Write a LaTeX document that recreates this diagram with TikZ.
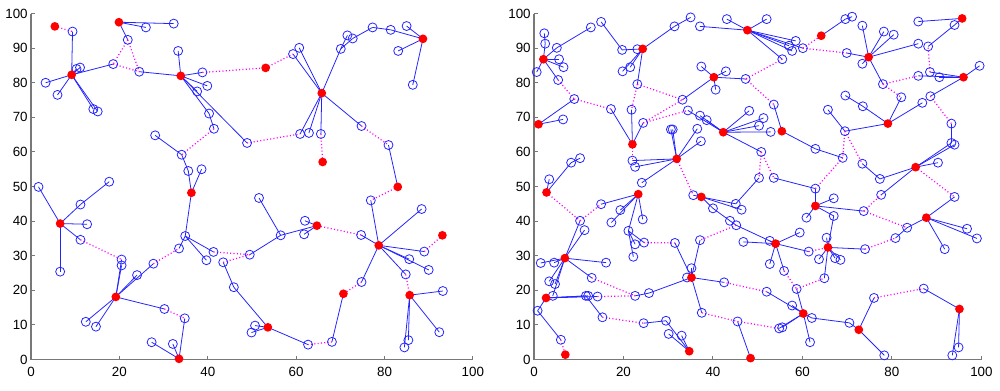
\documentclass[tikz,border=0pt]{standalone}
\usepackage{fontspec}
\setmainfont{Liberation Sans}
\usepackage{tikz}
\usetikzlibrary{backgrounds}
\definecolor{PtBlue}{RGB}{35,35,255}
\definecolor{HeadRed}{RGB}{255,0,0}
\definecolor{HopPink}{RGB}{255,0,255}
\definecolor{AxisGray}{RGB}{120,120,120}
\tikzset{
  % markers
  member/.style={circle,draw=PtBlue,line width=0.45pt,minimum size=0.18cm,inner sep=0pt},
  head/.style={circle,fill=HeadRed,minimum size=0.175cm,inner sep=0pt},
  % connections
  tie/.style={PtBlue,line width=0.45pt},
  hop/.style={HopPink,line width=0.7pt,dash pattern=on 0.6pt off 1.3pt},
  % axes
  axisline/.style={AxisGray,line width=0.6pt},
  ticklabel/.style={inner sep=0pt,font=\fontsize{7.6}{9}\selectfont}
}

\begin{document}
\begin{tikzpicture}[x=0.02cm,y=0.02cm]
  \useasboundingbox (0,0) rectangle (1000,390);

  % left panel
  \begin{scope}[shift={(31,30.5)},x=0.0884cm,y=0.0692cm]
    \draw[axisline] (0,100) -- (0,0) -- (100,0);
    \foreach \y in {0,10,...,100} {
      \draw[axisline] (0,\y) -- ++(0.08cm,0);
      \node[ticklabel,anchor=east] (ly\y) at ([xshift=-0.06cm]0,\y) {\y};
    }
    \foreach \x in {0,20,...,100} {
      \draw[axisline] (\x,0) -- ++(0,0.08cm);
      \node[ticklabel,anchor=north] (lx\x) at ([yshift=-0.15cm]\x,0) {\x};
    }
    \foreach \n/\x/\y in {l1/9.4/94.8, l2/26.0/96.0, l3/32.3/97.1, l4/21.9/92.4,
      l5/18.6/85.4, l6/24.5/83.2, l7/3.3/80.0, l8/6.0/76.5, l9/10.3/84.0,
      l10/11.1/84.4, l11/14.1/72.4, l12/15.1/71.7, l13/33.3/89.2, l14/38.8/83.0,
      l15/39.9/79.1, l16/37.6/77.5, l17/40.3/71.1, l18/41.4/66.7, l19/48.9/62.6,
      l20/34.1/59.2, l21/35.6/54.5, l22/38.6/55.0, l23/28.1/64.8, l24/60.9/65.2,
      l25/62.9/65.5, l26/65.6/65.2, l27/59.3/88.3, l28/60.7/90.1, l29/70.1/89.8,
      l30/71.6/93.7, l31/72.8/92.8, l32/77.3/96.0, l33/81.4/95.3, l34/85.0/96.4,
      l35/83.1/89.2, l36/86.4/79.4, l37/74.8/67.5, l38/80.9/62.0, l39/76.9/46.0,
      l40/88.4/43.5, l41/74.7/36.0, l42/62.0/40.1, l43/61.8/36.2, l44/56.5/35.9,
      l45/51.6/46.7, l46/49.5/30.3, l47/89.0/31.2, l48/85.6/29.0, l49/90.0/25.9,
      l50/84.8/24.6, l51/93.2/19.8, l52/92.4/7.9, l53/85.4/5.6, l54/84.5/3.5,
      l55/74.8/22.4, l56/68.1/5.1, l57/62.7/4.3, l58/50.7/9.8, l59/49.9/7.8,
      l60/45.9/20.9, l61/43.5/28.1, l62/1.7/49.9, l63/11.2/44.8, l64/17.7/51.4,
      l65/12.7/39.1, l66/11.2/34.6, l67/6.6/25.4, l68/20.5/28.9, l69/20.5/27.2,
      l70/24.0/24.4, l71/27.7/27.7, l72/33.5/32.1, l73/34.9/35.7, l74/39.7/28.7,
      l75/41.3/31.1, l76/30.2/14.6, l77/34.8/11.9, l78/27.3/5.0, l79/32.1/4.5,
      l80/12.4/10.9, l81/14.7/9.5}
      \node[member] (\n) at (\x,\y) {};
    \foreach \n/\x/\y in {LA/5.4/96.3, LB/9.2/82.3, LC/19.9/97.5, LD/33.9/82.0,
      LE/53.1/84.3, LF/65.8/77.0, LG/88.7/92.7, LH/66.0/57.1, LI/36.3/48.2,
      LJ/6.6/39.3, LK/83.0/49.9, LL/64.7/38.7, LM/78.7/33.0, LN/93.1/35.9,
      LO/19.2/18.1, LP/70.7/19.0, LQ/85.7/18.6, LR/53.6/9.3, LS/33.5/0.2}
      \node[head] (\n) at (\x,\y) {};
    \begin{scope}[on background layer]
      \foreach \a/\b in {l1/LB, l2/LC, l3/LC, l4/LC, l5/LB, l6/LD, l7/LB, l8/LB,
        l9/LB, l10/LB, l11/LB, l12/LB, l13/LD, l14/LD, l15/LD, l16/LD, l17/LD,
        l18/l17, l19/LD, l20/l21, l21/LI, l22/LI, l23/l20, l24/LF, l25/LF, l26/LF,
        l27/LF, l28/LF, l29/LF, l30/l29, l31/l29, l32/l31, l33/l32, l33/LG, l34/LG,
        l35/LG, l36/LG, l37/LF, l38/LK, l39/LM, l40/LM, l41/LM, l42/LL, l43/LL,
        l44/LL, l45/l44, l46/l44, l47/LM, l48/LM, l49/LM, l50/LM, l51/LQ, l52/LQ,
        l53/LQ, l54/LQ, l55/LM, l56/LP, l57/LR, l58/LR, l59/LR, l60/LR, l61/l60,
        l62/LJ, l63/LJ, l64/l63, l65/LJ, l66/LJ, l67/LJ, l68/LO, l69/LO, l70/LO,
        l71/LO, l72/l73, l73/LI, l74/l73, l75/l73, l76/LO, l77/LS, l78/LS, l79/LS,
        l80/LO, l81/LO}
        \draw[tie] (\a.center) -- (\b.center);
      \foreach \a/\b in {LA/l1, l4/l5, l4/l6, l5/l6, l14/LE, LE/l27, l18/l20,
        l19/l24, l26/LH, l37/l38, LK/l39, l41/LL, l47/LN, l50/LQ, l55/LP, l56/l57,
        l66/l68, l71/l72, l75/l46, l61/l46, l76/l77}
        \draw[hop] (\a.center) -- (\b.center);
    \end{scope}
  \end{scope}

  % right panel
  \begin{scope}[shift={(534,30.5)},x=0.0895cm,y=0.0692cm]
    \draw[axisline] (0,100) -- (0,0) -- (100,0);
    \foreach \y in {0,10,...,100} {
      \draw[axisline] (0,\y) -- ++(0.08cm,0);
      \node[ticklabel,anchor=east] (ry\y) at ([xshift=-0.06cm]0,\y) {\y};
    }
    \foreach \x in {0,20,...,100} {
      \draw[axisline] (\x,0) -- ++(0,0.08cm);
      \node[ticklabel,anchor=north] (rx\x) at ([yshift=-0.15cm]\x,0) {\x};
    }
    \foreach \n/\x/\y in {r1/2.3/94.3, r2/2.5/91.3, r3/5.1/90.1, r4/12.7/96.0,
      r5/15.0/97.6, r6/19.7/89.5, r7/23.1/89.7, r8/5.6/86.8, r9/6.6/84.5,
      r10/0.6/83.1, r11/5.4/80.8, r12/9.0/75.3, r13/6.5/69.4, r14/17.2/72.4,
      r15/21.8/72.2, r16/24.4/68.4, r17/19.8/83.3, r18/21.5/84.5, r19/23.1/79.6,
      r20/31.4/96.3, r21/35.0/98.9, r22/22.0/57.5, r23/22.6/55.7, r24/30.6/66.5,
      r25/31.0/66.5, r26/24.1/51.1, r27/3.4/52.1, r28/8.3/56.9, r29/10.3/58.2,
      r30/37.1/96.3, r31/43.1/98.4, r32/52.0/98.4, r33/57.0/90.7, r34/57.7/89.2,
      r35/58.5/92.1, r36/60.1/90.0, r37/55.5/86.8, r38/47.3/81.1, r39/53.6/73.7,
      r40/37.4/84.7, r41/42.9/83.3, r42/40.6/78.0, r43/33.2/75.1, r44/34.4/72.0,
      r45/37.1/70.5, r46/38.6/69.2, r47/48.1/71.9, r48/51.3/69.8, r49/50.3/67.6,
      r50/52.9/65.8, r51/50.8/60.0, r52/62.9/60.9, r53/50.3/52.5, r54/53.6/52.5,
      r55/62.9/49.4, r56/36.5/66.7, r57/37.3/63.1, r58/69.6/98.4, r59/71.1/99.1,
      r60/73.4/96.5, r61/78.2/94.8, r62/80.4/93.9, r63/85.9/91.3, r64/73.4/85.5,
      r65/69.9/88.6, r66/78.0/79.6, r67/82.1/75.8, r68/85.9/82.0, r69/88.5/83.1,
      r70/90.6/81.6, r71/99.6/84.9, r72/88.6/76.1, r73/86.8/74.2, r74/85.9/97.7,
      r75/94.0/96.7, r76/88.1/90.5, r77/93.3/68.2, r78/93.3/62.6, r79/94.0/62.1,
      r80/73.5/73.2, r81/69.6/76.3, r82/69.5/66.0, r83/65.7/72.2, r84/69.0/58.3,
      r85/73.4/56.6, r86/77.3/52.2, r87/90.3/56.9, r88/77.6/47.6, r89/94.0/47.0,
      r90/67.0/46.6, r91/73.7/42.9, r92/83.4/38.1, r93/67.0/41.5, r94/65.4/35.2,
      r95/63.7/29.0, r96/64.9/23.5, r97/67.3/29.3, r98/68.5/28.8, r99/74.0/31.9,
      r100/80.8/35.1, r101/96.8/37.8, r102/99.0/35.0, r103/91.8/31.9,
      r104/76.0/17.8, r105/87.1/20.5, r106/94.9/3.5, r107/93.5/1.2,
      r108/70.5/10.6, r109/78.3/1.2, r110/62.1/12.0, r111/40.0/43.7,
      r112/45.1/45.0, r113/46.4/43.3, r114/35.6/47.5, r115/43.8/40.1,
      r116/45.2/38.8, r117/46.8/34.0, r118/52.7/34.3, r119/59.4/36.7,
      r120/60.9/41.0, r121/52.7/27.6, r122/55.9/25.6, r123/61.4/31.2,
      r124/58.7/20.4, r125/52.0/19.6, r126/57.7/15.6, r127/54.8/9.0,
      r128/55.5/9.3, r129/61.7/5.0, r130/42.5/22.3, r131/35.2/26.4,
      r132/34.2/23.7, r133/37.5/13.5, r134/37.1/34.5, r135/31.5/33.7,
      r136/45.5/11.0, r137/10.3/40.1, r138/15.0/44.9, r139/19.3/43.2,
      r140/17.3/39.6, r141/24.3/40.5, r142/21.1/37.2, r143/22.6/33.3,
      r144/22.2/29.7, r145/24.6/33.8, r146/11.3/37.4, r147/1.5/27.9,
      r148/4.5/28.0, r149/16.1/28.0, r150/12.9/23.6, r151/3.4/22.6,
      r152/4.7/21.8, r153/4.2/18.4, r154/11.6/18.4, r155/12.1/18.4,
      r156/14.2/18.2, r157/15.3/12.2, r158/24.5/10.5, r159/29.5/11.2,
      r160/0.8/14.1, r161/6.0/5.7, r162/22.6/18.4, r163/25.7/19.2,
      r164/30.1/7.4, r165/33.0/6.9}
      \node[member] (\n) at (\x,\y) {};
    \foreach \n/\x/\y in {R1/2.1/86.8, R2/24.3/89.8, R3/1.0/68.0, R4/22.0/62.2,
      R5/31.9/58.0, R6/23.3/47.8, R7/2.8/48.3, R8/47.7/95.2, R9/64.2/93.6,
      R10/40.2/81.6, R11/42.3/65.7, R12/55.4/66.0, R13/37.4/47.0, R14/74.8/87.4,
      R15/96.0/81.6, R16/95.7/98.6, R17/79.1/68.2, R18/85.3/55.6, R19/62.9/44.4,
      R20/65.7/32.4, R21/87.7/41.0, R22/95.1/14.6, R23/72.6/8.6, R24/54.0/33.5,
      R25/60.2/13.3, R26/35.2/23.7, R27/48.4/0.4, R28/34.7/2.4, R29/6.9/29.3,
      R30/2.7/17.8, R31/7.0/1.4}
      \node[head] (\n) at (\x,\y) {};
    \begin{scope}[on background layer]
      \foreach \a/\b in {r1/r2, r2/R1, r3/R1, r4/r3, r5/r6, r6/r7, r7/R2, r8/R1,
        r9/R1, r10/R1, r11/R1, r12/R3, r13/R3, r14/R4, r15/R4, r16/R4, r17/R2,
        r18/R2, r19/R2, r20/R2, r21/r20, r22/R5, r23/R5, r24/R5, r25/R5, r26/R5,
        r27/R7, r28/R7, r29/r28, r30/R8, r31/R8, r32/R8, r33/R8, r34/R8,
        r35/R8, r36/R8, r37/R8, r38/R10, r39/R12, r40/R10, r41/R10, r42/R10,
        r43/R10, r44/R11, r45/R11, r46/R11, r47/R11, r48/R11, r49/R11, r50/R11,
        r51/R11, r52/R12, r53/r112, r54/r55, r55/R19, r56/R5, r57/R5, r58/R9,
        r59/r58, r60/R14, r61/R14, r62/R14, r63/R14, r64/R14, r65/R14, r66/R14,
        r67/R17, r68/R15, r69/R15, r70/R15, r71/R15, r72/R15, r73/R17, r74/R16,
        r75/R16, r76/r75, r77/r78, r78/R18, r79/R18, r80/R17, r81/r80, r82/R17,
        r83/r82, r84/r52, r85/r86, r86/R18, r87/R18, r88/R18, r89/R21, r90/R19,
        r91/R19, r92/R21, r93/R19, r93/R20, r94/R20, r95/R20, r96/R20, r97/R20,
        r98/R20, r99/R20, r100/r92, r101/R21, r102/R21, r103/R21, r104/R23,
        r105/R22, r106/R22, r107/R22, r108/R23, r109/R23, r110/R25, r110/r108,
        r111/R13, r112/R13, r113/R13, r114/R13, r115/r111, r116/R24, r116/r115,
        r117/R24, r118/R24, r119/R24, r120/R19, r121/R24, r122/R24, r123/R24,
        r124/R25, r125/R25, r126/R25, r127/R25, r128/R25, r129/R25, r130/R26,
        r131/R26, r132/R26, r133/R26, r134/R26, r135/R26, r136/R27, r137/R29,
        r138/R6, r139/R6, r140/R6, r141/R6, r142/R6, r143/r142, r144/r142,
        r145/r142, r146/R29, r147/R29, r148/R29, r149/R29, r150/R29, r151/R29,
        r152/R29, r153/R29, r154/R30, r155/R30, r156/R30, r157/r154, r158/r159,
        r159/R28, r160/R30, r161/r160, r162/r163, r163/R26, r164/R28, r165/R28}
        \draw[tie] (\a.center) -- (\b.center);
      \foreach \a/\b in {r11/r12, r12/r14, r19/r15, r19/r43, r16/r43, r16/r44,
        R4/r22, r36/R9, r36/r65, r37/r38, r38/r39, r51/r53, r51/r54, r69/r76,
        r66/r67, r66/r68, r72/r77, r82/r84, r82/r85, r84/r55, R18/r89, r91/r92,
        r91/r88, r99/r100, r104/r105, r123/R20, r122/r124, r124/r96, r125/r130,
        r133/r136, r136/r127, r116/r134, R7/r137, r137/r138, r145/r135,
        r150/r162, r156/r162, r157/r158, r161/R31, R5/r114}
        \draw[hop] (\a.center) -- (\b.center);
    \end{scope}
  \end{scope}
\end{tikzpicture}
\end{document}
